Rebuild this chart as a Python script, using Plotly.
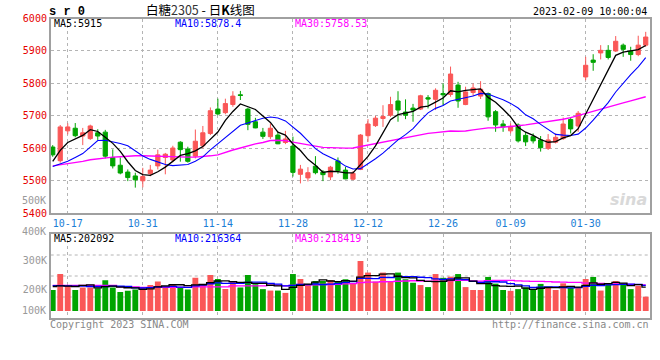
import plotly.graph_objects as go

# ---------------- data ----------------
DATES = [
    "10-13", "10-14", "10-17", "10-18", "10-19", "10-20", "10-21", "10-24", "10-25", "10-26", "10-27", "10-28", "10-31",
    "11-01", "11-02", "11-03", "11-04", "11-07", "11-08", "11-09", "11-10", "11-11", "11-14", "11-15", "11-16", "11-17",
    "11-18", "11-21", "11-22", "11-23", "11-24", "11-25", "11-28", "11-29", "11-30",
    "12-01", "12-02", "12-05", "12-06", "12-07", "12-08", "12-09", "12-12", "12-13", "12-14", "12-15", "12-16", "12-19",
    "12-20", "12-21", "12-22", "12-23", "12-26", "12-27", "12-28", "12-29", "12-30",
    "01-03", "01-04", "01-05", "01-06", "01-09", "01-10", "01-11", "01-12", "01-13", "01-16", "01-17", "01-18", "01-19",
    "01-20", "01-30", "01-31",
    "02-01", "02-02", "02-03", "02-06", "02-07", "02-08", "02-09",
]
OPEN = [5604, 5562, 5654, 5662, 5638, 5630, 5648, 5650, 5572, 5548, 5527, 5515, 5500, 5522, 5546, 5572, 5564, 5619,
        5598, 5576, 5608, 5646, 5721, 5710, 5735, 5765, 5721, 5682, 5650, 5636, 5641, 5618, 5607, 5520, 5509, 5545,
        5527, 5512, 5561, 5533, 5505, 5535, 5639, 5670, 5692, 5702, 5746, 5712, 5724, 5721, 5756, 5751, 5769, 5766,
        5795, 5735, 5772, 5761, 5769, 5713, 5675, 5654, 5672, 5640, 5636, 5626, 5600, 5619, 5630, 5689, 5669, 5820,
        5872, 5894, 5902, 5900, 5918, 5899, 5889, 5918]
HIGH = [5610, 5672, 5677, 5678, 5663, 5673, 5659, 5657, 5597, 5572, 5535, 5525, 5540, 5549, 5596, 5586, 5608, 5622,
        5605, 5658, 5669, 5726, 5753, 5753, 5776, 5777, 5725, 5694, 5663, 5677, 5651, 5654, 5636, 5549, 5542, 5576,
        5533, 5546, 5572, 5543, 5530, 5644, 5690, 5700, 5733, 5759, 5776, 5751, 5737, 5765, 5764, 5785, 5800, 5852,
        5805, 5790, 5800, 5807, 5772, 5718, 5687, 5677, 5677, 5651, 5646, 5638, 5644, 5646, 5695, 5695, 5715, 5882,
        5890, 5918, 5918, 5946, 5923, 5913, 5947, 5959]
LOW = [5574, 5556, 5643, 5634, 5610, 5626, 5626, 5569, 5538, 5520, 5499, 5479, 5480, 5514, 5535, 5520, 5557, 5559,
       5556, 5569, 5600, 5641, 5702, 5705, 5728, 5749, 5656, 5662, 5629, 5629, 5613, 5613, 5513, 5492, 5498, 5520,
       5499, 5502, 5522, 5505, 5502, 5533, 5620, 5666, 5666, 5697, 5682, 5690, 5682, 5718, 5723, 5718, 5733, 5759,
       5725, 5733, 5761, 5752, 5685, 5651, 5651, 5646, 5618, 5607, 5615, 5590, 5595, 5615, 5626, 5646, 5651, 5810,
       5839, 5874, 5874, 5897, 5882, 5870, 5884, 5913]
CLOSE = [5580, 5666, 5666, 5639, 5648, 5669, 5638, 5576, 5546, 5524, 5510, 5503, 5513, 5533, 5580, 5582, 5601, 5596,
         5560, 5622, 5648, 5716, 5706, 5738, 5761, 5763, 5674, 5663, 5637, 5662, 5614, 5629, 5526, 5536, 5525, 5525,
         5519, 5542, 5531, 5506, 5523, 5641, 5675, 5693, 5698, 5735, 5718, 5702, 5718, 5762, 5752, 5779, 5765, 5829,
         5746, 5774, 5786, 5782, 5697, 5672, 5666, 5668, 5623, 5620, 5623, 5602, 5626, 5634, 5675, 5660, 5708, 5856,
         5865, 5902, 5880, 5930, 5905, 5889, 5918, 5943]
VOLUME = [200000, 255000, 214000, 200000, 209000, 209000, 206000, 234000, 209000, 193000, 197000, 202000, 209000,
          217000, 229000, 214000, 221000, 209000, 202000, 242000, 221000, 252000, 238000, 203000, 231000, 209000,
          252000, 220000, 203000, 198000, 198000, 190000, 255000, 238000, 221000, 231000, 231000, 234000, 228000,
          237000, 223000, 300000, 260000, 229000, 260000, 228000, 260000, 237000, 225000, 217000, 210000, 255000,
          242000, 246000, 255000, 210000, 200000, 200000, 245000, 222000, 200000, 197000, 203000, 209000, 200000,
          221000, 210000, 200000, 223000, 209000, 209000, 238000, 245000, 198000, 221000, 231000, 223000, 203000,
          214000, 177000]

MA5_START = [5560, 5594, 5618, 5628]
MA10_START = [5544, 5551, 5560, 5572, 5584, 5604, 5624, 5625, 5621]
MA30_START = [5546, 5549, 5553, 5557, 5560, 5565, 5568, 5571, 5573, 5574, 5576, 5577, 5577, 5576, 5575, 5574,
              5573, 5573, 5573, 5573, 5574, 5577, 5580, 5588, 5595, 5601, 5608, 5614, 5618]
VMA5_START = [212000, 214000, 213000, 212000]
VMA10_START = [215000, 215000, 214000, 213000, 213000, 212000, 212000, 212000, 213000]
VMA30_START = [216000] * 9 + [211000] * 3 + [209000] * 7 + [211000] * 5 + [214000] * 5

X_TICKS = ["10-17", "10-31", "11-14", "11-28", "12-12", "12-26", "01-09", "01-30"]
VOL_TICKS = [200000, 300000]
VOL_TICK_TEXT = ["200K", "300K"]

MA_TEXT = ["MA5:5915", "MA10:5878.4", "MA30:5758.53"]
VMA_TEXT = ["MA5:202092", "MA10:216364", "MA30:218419"]


def moving_average(vals, n, start):
    out = list(start)
    for i in range(len(start), len(vals)):
        out.append(sum(vals[i - n + 1:i + 1]) / n)
    return out


MA5 = moving_average(CLOSE, 5, MA5_START)
MA10 = moving_average(CLOSE, 10, MA10_START)
MA30 = moving_average(CLOSE, 30, MA30_START)
VMA5 = moving_average(VOLUME, 5, VMA5_START)
VMA10 = moving_average(VOLUME, 10, VMA10_START)
VMA30 = moving_average(VOLUME, 30, VMA30_START)

# ---------------- style ----------------
W, H = 660, 360
RED = "#fa5757"
GREEN = "#00a400"
MONO = "DejaVu Sans Mono"
CJK = "Noto Sans CJK SC"
VOL_BASE = 127600


def px(xp):
    return xp / W


def py(yp):
    return 1 - yp / H


X_DOM = [px(50.7), px(650)]
Y_DOM = [py(213.3), py(18.5)]
Y2_DOM = [py(318), py(234)]

fig = go.Figure()

fig.add_trace(go.Candlestick(
    x=DATES, open=OPEN, high=HIGH, low=LOW, close=CLOSE,
    increasing=dict(line=dict(color=RED, width=1), fillcolor=RED),
    decreasing=dict(line=dict(color=GREEN, width=1), fillcolor=GREEN),
    whiskerwidth=0, xaxis="x", yaxis="y", showlegend=False, hoverinfo="skip"))

for vals, col, w in [(MA30, "#ff00ff", 1.4), (MA10, "#0000ff", 1.1), (MA5, "#000000", 1.3)]:
    fig.add_trace(go.Scatter(x=DATES, y=vals, mode="lines", line=dict(color=col, width=w),
                             xaxis="x", yaxis="y", showlegend=False, hoverinfo="skip"))

vol_colors = [RED if c > o else GREEN for o, c in zip(OPEN, CLOSE)]
fig.add_trace(go.Bar(x=DATES, y=[v - VOL_BASE for v in VOLUME], base=VOL_BASE,
                     marker=dict(color=vol_colors, line=dict(width=0)),
                     xaxis="x2", yaxis="y2", showlegend=False, hoverinfo="skip"))

for vals, col, w in [(VMA30, "#ff00ff", 1.3), (VMA10, "#0000ff", 1.3), (VMA5, "#000000", 1.3)]:
    fig.add_trace(go.Scatter(x=DATES, y=vals, mode="lines", line=dict(color=col, width=w, shape="hvh"),
                             xaxis="x2", yaxis="y2", showlegend=False, hoverinfo="skip"))

grid = dict(showgrid=True, gridcolor="#b4b4b4", griddash="dot", gridwidth=1)
frame = dict(showline=True, mirror=True, linecolor="#a0a0a0", linewidth=1.5, zeroline=False,
             ticks="", automargin=False)

fig.update_layout(
    width=W, height=H, margin=dict(l=0, r=0, t=0, b=0),
    paper_bgcolor="white", plot_bgcolor="white",
    boxgap=0.2, bargap=0.22,
    xaxis=dict(domain=X_DOM, anchor="y", type="category", categoryorder="array", categoryarray=DATES,
               range=[-0.27, 79.57], tickvals=X_TICKS, ticktext=X_TICKS,
               tickfont=dict(family=MONO, size=10, color="#1a7ed6"),
               rangeslider=dict(visible=False), **grid, **frame),
    yaxis=dict(domain=Y_DOM, anchor="x", range=[5399.9, 6000.1], tick0=5400, dtick=100,
               tickfont=dict(family=MONO, size=10, color="#e60000"), **grid, **frame),
    xaxis2=dict(domain=X_DOM, anchor="y2", type="category", matches="x", categoryorder="array",
                categoryarray=DATES, tickvals=X_TICKS, showticklabels=False, **grid, **frame),
    yaxis2=dict(domain=Y2_DOM, anchor="x2", range=[103400, 393100], tickvals=VOL_TICKS,
                ticktext=VOL_TICK_TEXT, tickfont=dict(family=MONO, size=10, color="#999999"),
                showgrid=False, **frame),
)

# horizontal dotted grid in the volume panel
for f in [0.25, 0.5, 0.75]:
    fig.add_shape(type="line", xref="x2 domain", yref="y2 domain", x0=0, x1=1, y0=f, y1=f,
                  line=dict(color="#b4b4b4", width=1, dash="dot"), layer="below")

ann = []


def text(x, y, s, color="#000", size=10, family=MONO, anchor="left"):
    ann.append(dict(x=px(x), y=py(y), xref="paper", yref="paper", text=s, showarrow=False,
                    xanchor=anchor, yanchor="middle", borderpad=0,
                    font=dict(family=family, size=size, color=color)))


text(48, 11.5, "<b>s r 0</b>", size=12, family="Liberation Mono")
text(200, 9.5, "白糖<span style='color:#333'>2305</span> - 日<b>K</b>线图", size=12.5, family=CJK, anchor="center")
text(648, 12, "2023-02-09 10:00:04", size=10, anchor="right")
text(53, 24, MA_TEXT[0], color="#000000")
text(174, 24, MA_TEXT[1], color="#0000ff")
text(294, 24, MA_TEXT[2], color="#ff00ff")
text(53, 238.5, VMA_TEXT[0], color="#000000")
text(174, 238.5, VMA_TEXT[1], color="#0000ff")
text(294, 238.5, VMA_TEXT[2], color="#ff00ff")
text(46.5, 200.5, "500K", color="#999999", anchor="right")
text(46.5, 231, "400K", color="#999999", anchor="right")
text(46.5, 310, "100K", color="#999999", anchor="right")
text(49, 324, "Copyright 2023 SINA.COM", color="#888888")
text(650, 324, "http://finance.sina.com.cn", color="#888888", anchor="right")
text(648, 199, "<i><b>sina</b></i>", color="#d9d9d9", size=16, family="DejaVu Sans", anchor="right")
fig.update_layout(annotations=ann)

fig.write_html("out.html", config={"displayModeBar": False},
               post_script="document.body.style.margin='0';document.body.style.overflow='hidden';")
